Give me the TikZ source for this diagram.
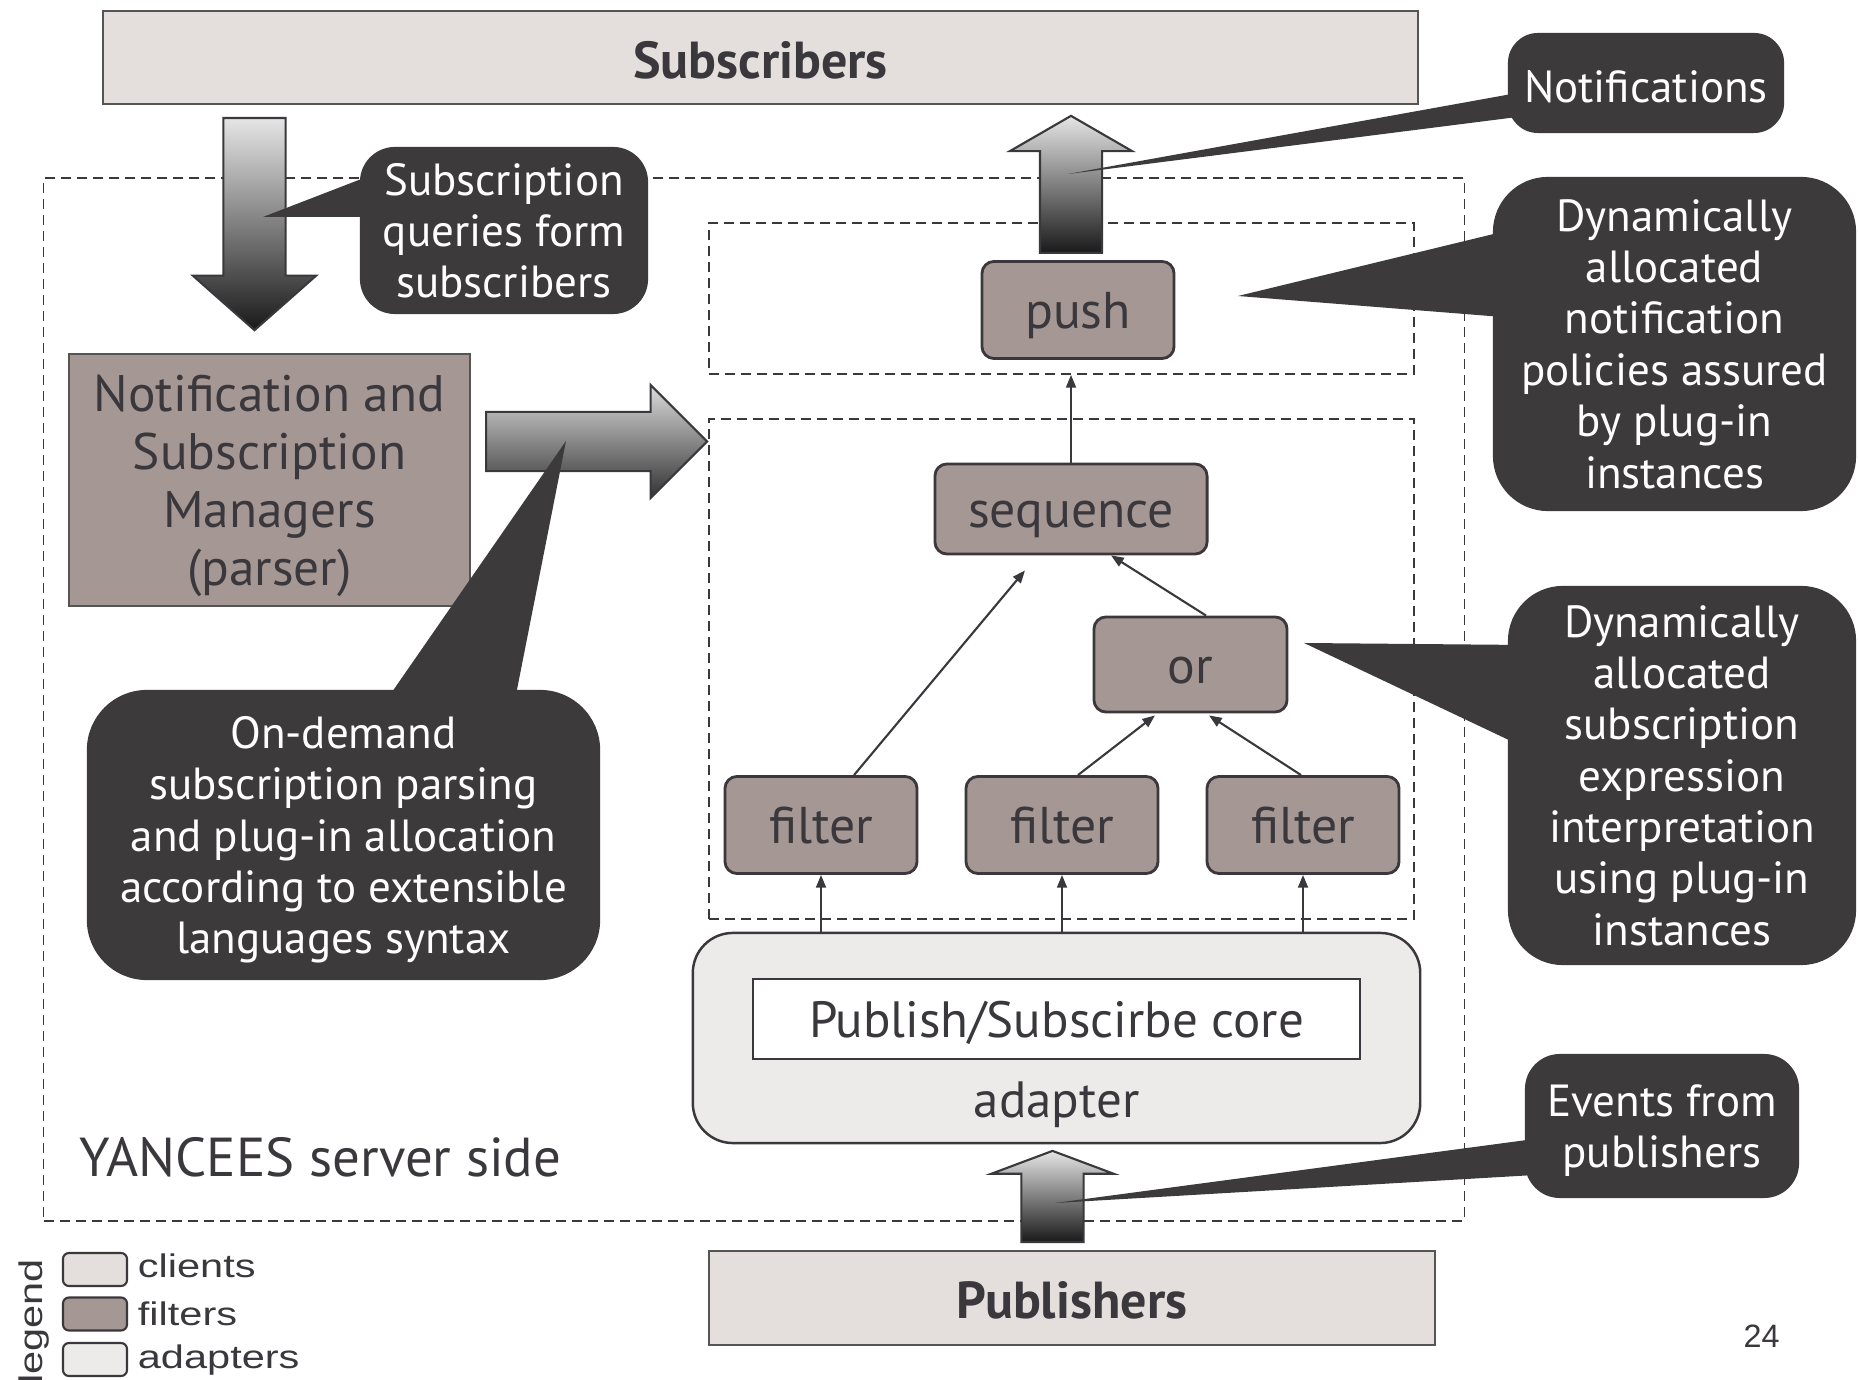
\documentclass[tikz,border=0pt]{standalone}
\usepackage{fontspec}
\setmainfont{PT Sans}
\newfontfamily\legendfont{Liberation Sans}
\usepackage{tikz}
\usetikzlibrary{positioning, shapes.arrows, arrows.meta}
\definecolor{clientfill}{HTML}{E4DFDD}
\definecolor{filterfill}{HTML}{A59894}
\definecolor{adapterfill}{HTML}{ECEBEA}
\definecolor{bubblefill}{HTML}{3C3A3B}
\definecolor{ink}{HTML}{3A383C}
\definecolor{edge}{HTML}{555555}

\begin{document}
\begin{tikzpicture}[
    x=0.01cm, y=-0.01cm,
    client/.style={
        draw=edge, fill=clientfill, line width=0.6pt,
        text=ink, font=\fontsize{14.8}{17}\selectfont\bfseries,
        text height=11.8pt, text depth=0pt,
    },
    filt/.style={
        draw=ink, fill=filterfill, line width=0.8pt,
        rounded corners=0.12cm, text=ink,
        font=\fontsize{14.7}{17}\selectfont,
        text height=11.3pt, text depth=0.6pt,
        minimum width=1.92cm, minimum height=0.97cm,
    },
    group/.style={draw=ink, dash pattern=on 0.1cm off 0.06cm, line width=0.5pt},
    big/.style={
        single arrow, draw=ink, line width=0.6pt,
        top color=black!10, bottom color=black!90, anchor=tail,
    },
    conn/.style={-{Triangle[length=3.6pt, width=2.8pt]}, line width=0.6pt, color=ink},
    bubble/.style={
        fill=bubblefill, text=white, align=center, inner sep=0pt,
        font=\fontsize{12.8}{14.6}\selectfont,
    },
    legbox/.style={
        draw=ink, line width=0.6pt, rounded corners=0.06cm,
        minimum width=0.64cm, minimum height=0.33cm, inner sep=0pt,
    },
    legtext/.style={
        font=\legendfont\fontsize{9.3}{11}\selectfont, text=ink, inner sep=0pt,
    },
]
\useasboundingbox (0,0) rectangle (1858,1380);
\clip (0,0) rectangle (1858,1380);

% server side
\node[group, minimum width=14.2cm, minimum height=10.43cm] (server) at (754,699.5) {};
\node[font=\fontsize{15.6}{18}\selectfont, text=ink, anchor=base west, inner sep=0pt]
    (srvLabel) at (79,1176) {YANCEES server side};

% clients
\node[client, minimum width=13.15cm, minimum height=0.93cm] (subs) at (760.5,57.5) {Subscribers};
\node[client, minimum width=7.26cm, minimum height=0.94cm] (pubs) at (1072,1298) {Publishers};

% plug-in groups
\node[group, minimum width=7.05cm, minimum height=1.51cm] (grpPush) at (1061.5,298.5) {};
\node[group, minimum width=7.05cm, minimum height=5.00cm] (grpTree) at (1061.5,669) {};

\node[draw=edge, fill=filterfill, line width=0.6pt, text=ink, align=center,
      font=\fontsize{14.6}{16.5}\selectfont, text depth=-0.5pt,
      minimum width=4.01cm, minimum height=2.52cm] (mgr) at (269.5,480)
      {Notification and\\Subscription\\Managers\\(parser)};

\node[filt] (push) at (1078,310) {push};
\node[filt, minimum width=2.72cm, minimum height=0.90cm] (seq) at (1071,509) {sequence};
\node[filt, minimum width=1.93cm, minimum height=0.95cm] (or) at (1190.5,664.5) {or};
\node[filt] (f1) at (821,825) {filter};
\node[filt] (f2) at (1062,825) {filter};
\node[filt] (f3) at (1303,825) {filter};

% adapter
\node[draw=ink, fill=adapterfill, line width=0.7pt, rounded corners=0.4cm,
      minimum width=7.27cm, minimum height=2.10cm] (adapter) at (1056.5,1038) {};
\node[draw=ink, fill=white, line width=0.7pt, text=ink,
      font=\fontsize{14.5}{17}\selectfont, text height=11.5pt, text depth=0.7pt,
      minimum width=6.07cm, minimum height=0.80cm] (core) at (1056.5,1019) {Publish/Subscirbe core};
\node[text=ink, font=\fontsize{14.5}{17}\selectfont] (adLabel) at (1056.5,1105) {adapter};

\draw[conn] (f1 |- adapter.north) -- (f1);
\draw[conn] (f2 |- adapter.north) -- (f2);
\draw[conn] (f3 |- adapter.north) -- (f3);
\draw[conn] ([xshift=0.16cm]f2.north) -- ([xshift=-0.355cm,yshift=-0.02cm]or.south);
\draw[conn] ([xshift=-0.02cm]f3.north) -- ([xshift=0.185cm,yshift=-0.02cm]or.south);
\draw[conn] ([xshift=0.33cm]f1.north) -- ([xshift=-0.46cm,yshift=-0.15cm]seq.south);
\draw[conn] ([xshift=0.155cm]or.north) -- ([xshift=0.40cm]seq.south);
\draw[conn] (seq) -- (seq |- grpPush.south);

% big arrows
\node[big, inner sep=0.3cm, minimum height=2.12cm, minimum width=1.21cm,
      single arrow head extend=0.305cm, single arrow tip angle=97,
      shape border rotate=270] (inArrow) at (254.5,117) {};
\node[big, inner sep=0.285cm, minimum height=2.21cm, minimum width=1.11cm,
      single arrow head extend=0.27cm, single arrow tip angle=90,
      top color=black!14, bottom color=black!80] (parseArrow) at (485,441.5) {};
\node[big, inner sep=0.3cm, minimum height=1.37cm, minimum width=1.2cm,
      single arrow head extend=0.3cm, single arrow tip angle=120,
      shape border rotate=90] (outArrow) at (1071,254) {};
\node[big, inner sep=0.3cm, minimum height=0.91cm, minimum width=1.2cm,
      single arrow head extend=0.3cm, single arrow tip angle=139,
      shape border rotate=90] (evArrow) at (1052.5,1243) {};

% callouts
\coordinate (subqTip) at (263,217);
\coordinate (notifTip) at (1068,174);
\coordinate (policyTip) at (1238,296);
\coordinate (exprTip) at (1304,643);
\coordinate (eventsTip) at (1055,1203);
\coordinate (parseTip) at (566,441);

\node[bubble, rounded corners=0.35cm, minimum width=2.88cm, minimum height=1.67cm,
      text depth=-1.3pt] (cSubq) at (504,230.5) {Subscription\\queries form\\subscribers};
\fill[bubblefill] (subqTip) -- ([xshift=0.1cm,yshift=0.545cm]cSubq.west)
    -- ([xshift=0.1cm,yshift=0.135cm]cSubq.west) -- cycle;

\node[bubble, rounded corners=0.3cm, minimum width=2.76cm, minimum height=1.00cm,
      text height=11pt, text depth=0pt] (cNotif) at (1646,83) {Notifications};
\fill[bubblefill] (notifTip) -- ([xshift=0.1cm,yshift=-0.10cm]cNotif.west)
    -- ([xshift=0.1cm,yshift=-0.34cm]cNotif.west) -- cycle;

\node[bubble, rounded corners=0.55cm, minimum width=3.63cm, minimum height=3.34cm]
    (cPolicy) at (1674.5,344) {Dynamically\\allocated\\notification\\policies assured\\by plug-in\\instances};
\fill[bubblefill] (policyTip) -- ([xshift=0.1cm,yshift=1.12cm]cPolicy.west)
    -- ([xshift=0.1cm,yshift=0.27cm]cPolicy.west) -- cycle;

\node[bubble, rounded corners=0.55cm, minimum width=3.48cm, minimum height=3.79cm]
    (cExpr) at (1682,775.5) {Dynamically\\allocated\\subscription\\expression\\interpretation\\using plug-in\\instances};
\fill[bubblefill] (exprTip) -- ([xshift=0.1cm,yshift=1.305cm]cExpr.west)
    -- ([xshift=0.1cm,yshift=0.315cm]cExpr.west) -- cycle;

\node[bubble, rounded corners=0.35cm, minimum width=2.74cm, minimum height=1.44cm,
      text depth=-0.4pt] (cEvents) at (1662,1126) {Events from\\publishers};
\fill[bubblefill] (eventsTip) -- ([xshift=0.1cm,yshift=-0.13cm]cEvents.west)
    -- ([xshift=0.1cm,yshift=-0.49cm]cEvents.west) -- cycle;

\node[bubble, rounded corners=0.6cm, minimum width=5.13cm, minimum height=2.90cm,
      text depth=-1pt] (cParse) at (343.5,835)
    {On-demand\\subscription parsing\\and plug-in allocation\\according to extensible\\languages syntax};
\fill[bubblefill] (parseTip) -- ([xshift=0.435cm,yshift=-0.1cm]cParse.north)
    -- ([xshift=1.715cm,yshift=-0.1cm]cParse.north) -- cycle;

% legend
\node[legtext, rotate=90, xscale=1.27, anchor=base east] (legTitle) at (42,1258) {legend};
\node[legbox, fill=clientfill] (legClient) at (95,1269.5) {};
\node[legbox, fill=filterfill] (legFilter) at (95,1314) {};
\node[legbox, fill=adapterfill] (legAdapter) at (95,1359.5) {};
\node[legtext, xscale=1.27, anchor=base west] (legClientTxt) at (137,1277) {clients};
\node[legtext, xscale=1.27, anchor=base west] (legFilterTxt) at (137,1325) {filters};
\node[legtext, xscale=1.27, anchor=base west] (legAdapterTxt) at (137,1368) {adapters};
\node[font=\legendfont\fontsize{9.2}{11}\selectfont, text=ink] (pageNo) at (1761.5,1336.5) {24};
\end{tikzpicture}
\end{document}
